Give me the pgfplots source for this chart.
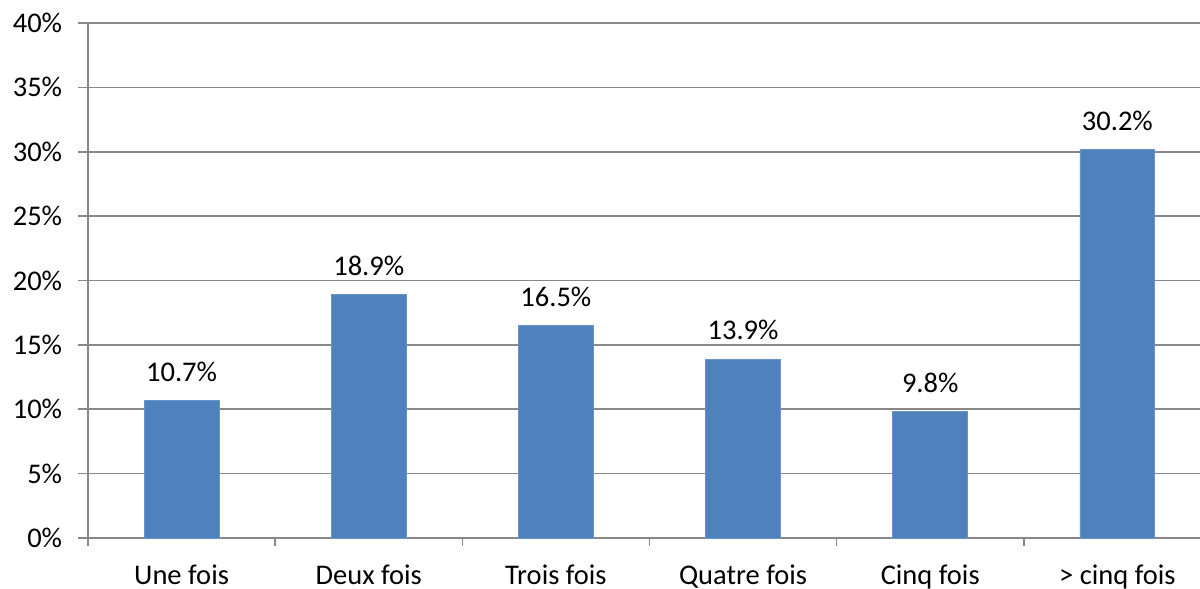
\documentclass[border=0pt]{standalone}
\usepackage{pgfplots}
\pgfplotsset{compat=1.18}
\usepackage{fontspec}
\setmainfont{Carlito}
\definecolor{barblue}{HTML}{4F81BD}
\definecolor{gridgray}{HTML}{888888}
\begin{document}
\fontsize{14.3}{17}\selectfont
\begin{tikzpicture}
\begin{axis}[
  at={(0,0)}, anchor=south west,
  scale only axis,
  width=561.5bp, height=257.5bp,
  xmin=-0.5, xmax=5.5,
  ymin=0, ymax=40,
  ybar, bar width=0.4,
  axis x line*=bottom, axis y line*=left,
  axis line style={draw=gridgray, line width=0.8pt},
  xtick={0,...,5},
  xticklabels={Une fois, Deux fois, Trois fois, Quatre fois, Cinq fois, > cinq fois},
  major x tick style={draw=none},
  minor xtick={-0.5,0.5,1.5,2.5,3.5,4.5,5.5},
  minor x tick style={draw=gridgray, line width=0.8pt},
  minor tick length=4bp,
  xtick align=outside, ytick align=outside,
  ytick={0,5,...,40},
  major tick length=5bp,
  y tick style={draw=gridgray, line width=0.8pt},
  ymajorgrids, grid style={draw=gridgray, line width=0.8pt},
  yticklabel={\pgfmathprintnumber{\tick}\%},
  /pgf/number format/assume math mode=true,
  tick label style={font=\fontsize{14.3}{17}\selectfont},
  xticklabel style={yshift=-3.5bp},
  yticklabel style={xshift=-3bp},
  nodes near coords={\pgfmathprintnumber[fixed,precision=1,fixed zerofill]{\pgfplotspointmeta}\%},
  nodes near coords style={font=\fontsize{14.3}{17}\selectfont, yshift=4.5bp},
]
\addplot[fill=barblue, draw=barblue!85!white] coordinates {(0,10.7) (1,18.9) (2,16.5) (3,13.9) (4,9.8) (5,30.2)};
\end{axis}
\pgfresetboundingbox
\path[use as bounding box] (-44bp,-25.5bp) rectangle (556bp,269bp);
\end{tikzpicture}
\end{document}
